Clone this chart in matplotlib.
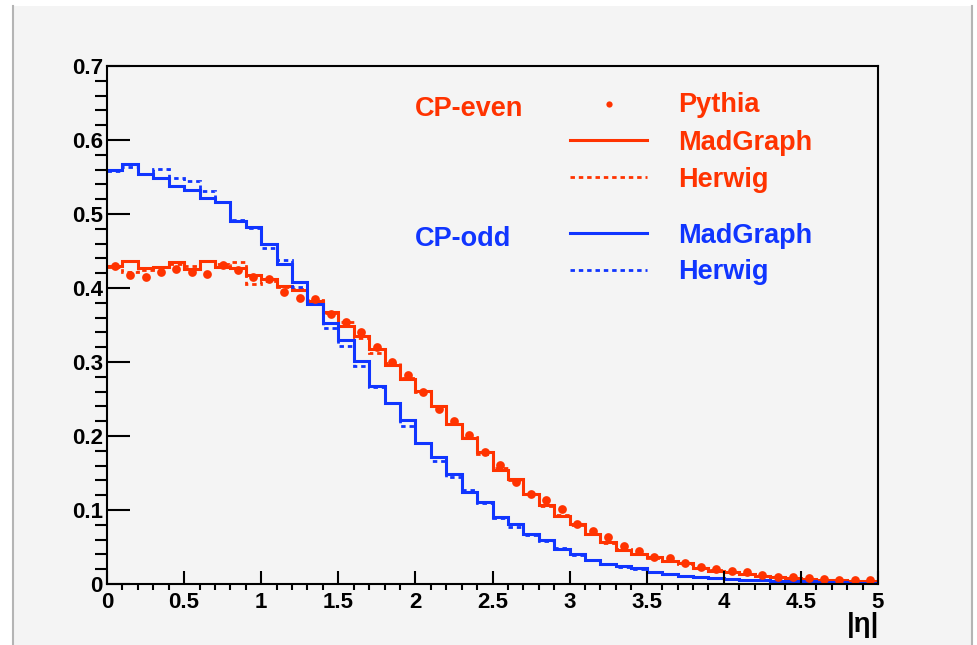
import numpy as np
import matplotlib
matplotlib.use('Agg')
import matplotlib.pyplot as plt
from matplotlib.lines import Line2D
from matplotlib.patches import Rectangle
from matplotlib.ticker import MultipleLocator

plt.rcParams['font.family'] = ['Liberation Sans', 'DejaVu Sans']
plt.rcParams['font.weight'] = 'bold'

# |eta| histograms, 50 bins of 0.1 from 0 to 5
edges = np.linspace(0, 5, 51)

even_pythia = [0.430, 0.418, 0.415, 0.421, 0.426, 0.422, 0.419, 0.431, 0.424, 0.415,
               0.412, 0.394, 0.387, 0.385, 0.365, 0.354, 0.341, 0.320, 0.300, 0.283,
               0.259, 0.236, 0.220, 0.201, 0.179, 0.161, 0.138, 0.121, 0.113, 0.101,
               0.081, 0.072, 0.063, 0.052, 0.044, 0.037, 0.035, 0.028, 0.023, 0.020,
               0.017, 0.016, 0.012, 0.010, 0.009, 0.008, 0.007, 0.006, 0.006, 0.005]
even_madgraph = [0.430, 0.436, 0.427, 0.429, 0.435, 0.426, 0.436, 0.429, 0.427, 0.417,
                 0.412, 0.403, 0.397, 0.383, 0.368, 0.348, 0.335, 0.318, 0.296, 0.277,
                 0.261, 0.241, 0.216, 0.197, 0.178, 0.154, 0.142, 0.122, 0.107, 0.092,
                 0.081, 0.068, 0.057, 0.046, 0.040, 0.036, 0.031, 0.028, 0.022, 0.018,
                 0.016, 0.013, 0.011, 0.009, 0.008, 0.007, 0.006, 0.005, 0.004, 0.004]
even_herwig = [0.428, 0.422, 0.425, 0.428, 0.432, 0.430, 0.437, 0.433, 0.435, 0.406,
               0.410, 0.401, 0.399, 0.384, 0.366, 0.354, 0.333, 0.312, 0.298, 0.278,
               0.259, 0.240, 0.216, 0.198, 0.176, 0.157, 0.140, 0.121, 0.106, 0.093,
               0.080, 0.068, 0.056, 0.047, 0.040, 0.035, 0.031, 0.027, 0.022, 0.019,
               0.016, 0.013, 0.011, 0.009, 0.008, 0.007, 0.006, 0.005, 0.004, 0.004]
odd_madgraph = [0.560, 0.568, 0.554, 0.549, 0.538, 0.532, 0.522, 0.516, 0.491, 0.483,
                0.459, 0.432, 0.408, 0.379, 0.353, 0.330, 0.302, 0.268, 0.245, 0.222,
                0.191, 0.172, 0.148, 0.125, 0.111, 0.091, 0.081, 0.067, 0.059, 0.047,
                0.040, 0.033, 0.027, 0.024, 0.021, 0.016, 0.013, 0.011, 0.009, 0.008,
                0.007, 0.006, 0.005, 0.0045, 0.004, 0.0035, 0.003, 0.0025, 0.002, 0.002]
odd_herwig = [0.558, 0.563, 0.554, 0.561, 0.549, 0.544, 0.531, 0.516, 0.492, 0.481,
              0.454, 0.438, 0.402, 0.379, 0.346, 0.322, 0.295, 0.266, 0.244, 0.214,
              0.191, 0.166, 0.145, 0.127, 0.110, 0.089, 0.077, 0.066, 0.058, 0.048,
              0.039, 0.032, 0.027, 0.023, 0.020, 0.016, 0.013, 0.011, 0.009, 0.008,
              0.007, 0.006, 0.005, 0.004, 0.004, 0.003, 0.003, 0.0025, 0.002, 0.002]

x_ticks = [0, 0.5, 1, 1.5, 2, 2.5, 3, 3.5, 4, 4.5, 5]
x_labels = ['0', '0.5', '1', '1.5', '2', '2.5', '3', '3.5', '4', '4.5', '5']
y_ticks = [0, 0.1, 0.2, 0.3, 0.4, 0.5, 0.6, 0.7]
y_labels = ['0', '0.1', '0.2', '0.3', '0.4', '0.5', '0.6', '0.7']

RED = '#ff3300'
BLUE = '#1035ff'
BG = '#f4f4f4'
W, H = 978, 645


def fx(x):
    return x / W


def fy(y):
    return 1 - y / H


fig = plt.figure(figsize=(W / 100, H / 100), dpi=100, facecolor='white')
fig.add_artist(Rectangle((fx(13), 0), fx(972) - fx(13), fy(6), transform=fig.transFigure,
                         facecolor=BG, edgecolor='none', zorder=-2))
for xe in (13, 972):
    fig.add_artist(Line2D([fx(xe), fx(xe)], [0, fy(6)], transform=fig.transFigure,
                          color='#b4b4b4', lw=1.5, zorder=-1))

ax = fig.add_axes([fx(107), fy(584), fx(878) - fx(107), fy(66) - fy(584)])
ax.set_facecolor(BG)

centers = (edges[:-1] + edges[1:]) / 2
dotted = (0, (1.6, 1.4))
ax.stairs(even_madgraph, edges, baseline=None, color=RED, lw=2.2)
ax.stairs(even_herwig, edges, baseline=None, color=RED, lw=2.0, linestyle=dotted)
ax.plot(centers, even_pythia, 'o', color=RED, ms=6.3, mec='none')
ax.stairs(odd_madgraph, edges, baseline=None, color=BLUE, lw=2.2)
ax.stairs(odd_herwig, edges, baseline=None, color=BLUE, lw=2.0, linestyle=dotted)

ax.set_xlim(0, 5)
ax.set_ylim(0, 0.7)
ax.set_xticks(x_ticks, x_labels)
ax.set_yticks(y_ticks, y_labels)
ax.xaxis.set_minor_locator(MultipleLocator(0.1))
ax.yaxis.set_minor_locator(MultipleLocator(0.02))
ax.tick_params(direction='in', labelsize=16, width=1.5, colors='black')
ax.tick_params(axis='x', which='major', length=9.5, pad=6)
ax.tick_params(axis='x', which='minor', length=4.5, width=1.5)
ax.tick_params(axis='y', which='major', length=16.5, pad=3)
ax.tick_params(axis='y', which='minor', length=8.5, width=1.5)
for lab in ax.get_xticklabels() + ax.get_yticklabels():
    lab.set_fontweight('bold')
for sp in ax.spines.values():
    sp.set_linewidth(1.5)

fig.text(fx(879), fy(632), '|\u03b7|', ha='right', va='baseline', fontsize=20, fontweight='bold')

# legend drawn by hand, ROOT style
fs = 19.5
fig.text(fx(415), fy(115.5), 'CP-even', color=RED, fontsize=fs, fontweight='bold', va='baseline')
fig.text(fx(415), fy(245.5), 'CP-odd', color=BLUE, fontsize=fs, fontweight='bold', va='baseline')
fig.add_artist(Line2D([fx(609)], [fy(104)], transform=fig.transFigure, marker='o',
                      color=RED, ms=4.5, mec='none', lw=0))
rows = [(140, RED, '-', 'MadGraph', 150), (177, RED, dotted, 'Herwig', 187),
        (233, BLUE, '-', 'MadGraph', 243), (270, BLUE, dotted, 'Herwig', 279)]
for ly, col, ls, lab, base in rows:
    fig.add_artist(Line2D([fx(570), fx(647)], [fy(ly), fy(ly)], transform=fig.transFigure,
                          color=col, lw=2.2 if ls == '-' else 2.0, linestyle=ls))
    fig.text(fx(678), fy(base), lab, color=col, fontsize=fs, fontweight='bold', va='baseline')
fig.text(fx(678), fy(112), 'Pythia', color=RED, fontsize=fs, fontweight='bold', va='baseline')

fig.savefig('out.png', dpi=100, facecolor='white')
